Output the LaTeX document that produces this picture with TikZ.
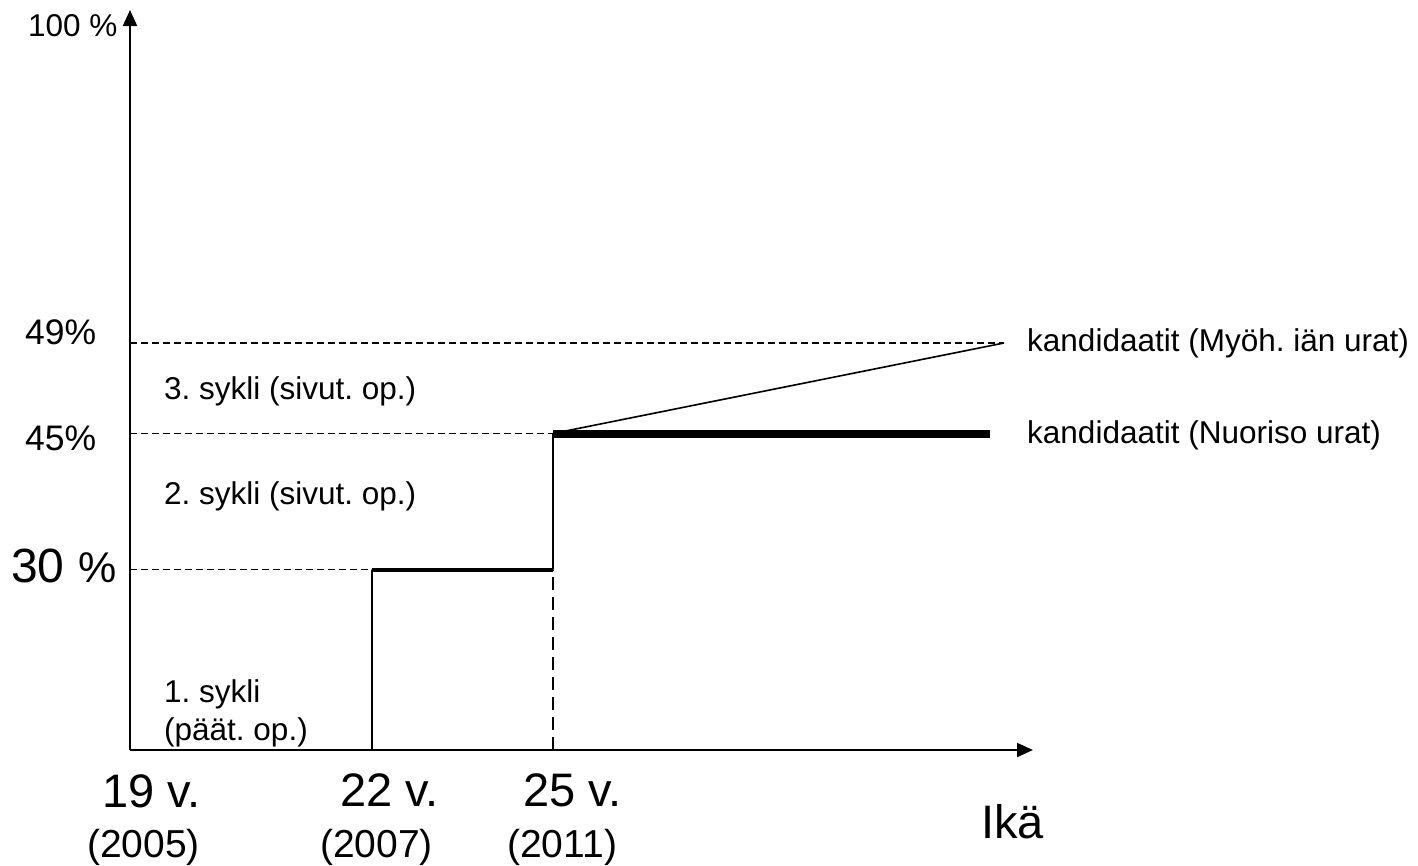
\documentclass[tikz,border=0pt]{standalone}
\usepackage{fontspec}
\setmainfont{Liberation Sans}
\usetikzlibrary{arrows.meta}
\frenchspacing

\begin{document}
\begin{tikzpicture}[x=1pt, y=-1pt,
        font=\fontsize{31.5}{38}\selectfont,
        >={Triangle[length=16pt,width=14pt]},
        every node/.style={anchor=base west, inner sep=0pt},
        axis/.style={line width=2pt, ->},
        guide/.style={line width=1.2pt, dash pattern=on 6.7pt off 4.3pt},
        guidelong/.style={line width=1.3pt, dash pattern=on 13pt off 7pt},
        stepline/.style={line width=1.6pt},
        level/.style={line width=4pt},
        levelbold/.style={line width=8pt},
        pctlabel/.style={font=\fontsize{35.5}{40}\selectfont},
        agelabel/.style={font=\fontsize{47}{52}\selectfont},
        yearlabel/.style={font=\fontsize{39}{44}\selectfont}
        ]
            \useasboundingbox (0,0) rectangle (1418,865);

            % Punkte
            \coordinate (O)    at (130,750);
            \coordinate (Ytop) at (130,10);
            \coordinate (Xend) at (1033,750);
            \coordinate (L30)  at (130,569.5);
            \coordinate (L45)  at (130,433.5);
            \coordinate (L49)  at (130,343);
            \coordinate (A22)  at (372,750);
            \coordinate (B22)  at (372,569.5);
            \coordinate (A25)  at (553,750);
            \coordinate (B25)  at (553,569.5);
            \coordinate (C25)  at (553,433.5);
            \coordinate (E45)  at (990,433.5);
            \coordinate (E49)  at (1004,343);

            % Achsen
            \draw [axis] (O) -- (Ytop);
            \draw [axis] (O) -- (Xend);

            % Hilfslinien
            \draw [guide] (L30) -- (B22)
                          (L45) -- (C25)
                          (L49) -- (E49);
            \draw [guidelong] (A25) -- (B25);

            % Verlauf
            \draw [stepline] (A22) -- (B22)
                             (B25) -- (C25)
                             (C25) -- (E49);
            \draw [level] (B22) -- (B25);
            \draw [levelbold] (C25) -- (E45);

            % Beschriftung
            \node (p100) at (28,36) {100 \%};
            \node (p49) [pctlabel] at (25,344) {49\%};
            \node (p45) [pctlabel] at (25,450) {45\%};
            \node (p30) at (11,582) {\fontsize{48}{52}\selectfont 30\hspace{0.3em}\fontsize{43}{48}\selectfont\%};

            \node (s3) at (164,399) {3. sykli (sivut. op.)};
            \node (s2) at (164,504) {2. sykli (sivut. op.)};
            \node (s1) at (164,702) {1. sykli};
            \node (s1b) at (164,740) {(päät. op.)};

            \node (k49) at (1027,351) {kandidaatit (Myöh. iän urat)};
            \node (k45) at (1027,443) {kandidaatit (Nuoriso urat)};

            \node (v19) [agelabel] at (102,807) {19 v.};
            \node (v22) [agelabel] at (340,806) {22 v.};
            \node (v25) [agelabel] at (523,806) {25 v.};
            \node (y05) [yearlabel] at (87,857) {(2005)};
            \node (y07) [yearlabel] at (320,857) {(2007)};
            \node (y11) [yearlabel] at (507,857) {(2011)};
            \node (ika) [agelabel] at (981,838) {Ikä};

        \end{tikzpicture}
\end{document}
